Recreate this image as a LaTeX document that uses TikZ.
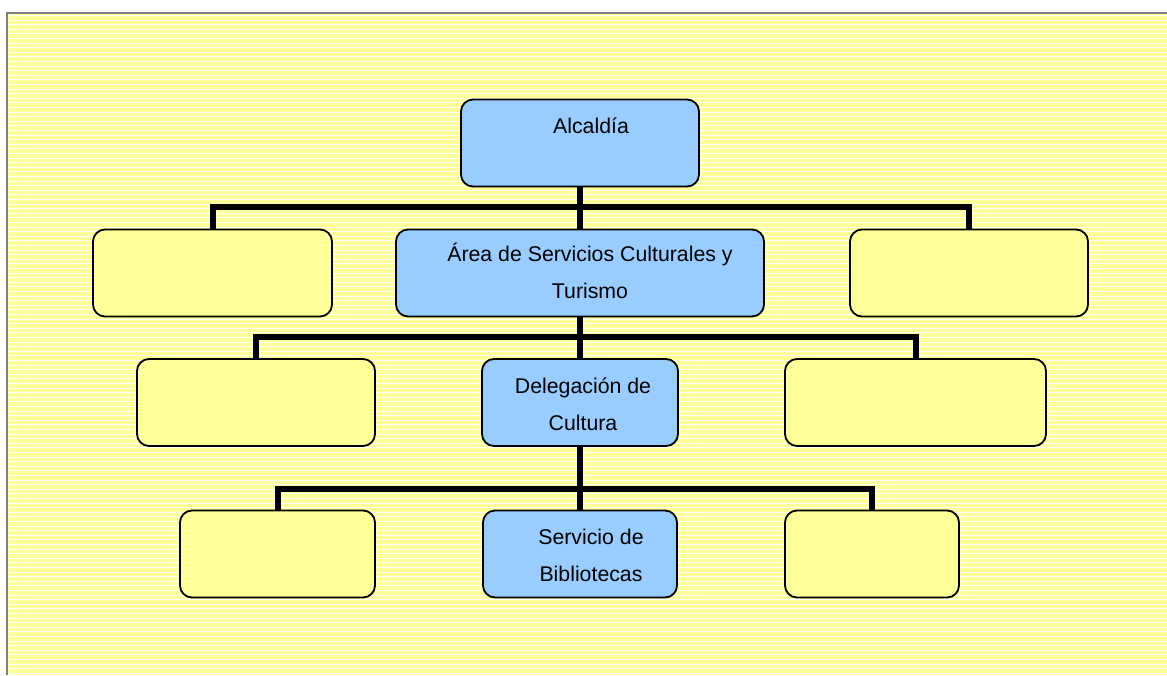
\documentclass[tikz,border=0pt]{standalone}
\usepackage{fontspec}
\setmainfont{Liberation Sans}
\usetikzlibrary{positioning, calc}
\definecolor{Paper}{RGB}{255, 255, 153}
\definecolor{Office}{RGB}{153, 204, 255}
\definecolor{Frame}{RGB}{128, 128, 128}

\begin{document}
\begin{tikzpicture}[x=1pt, y=-1pt,
            unit/.style={rounded corners=12pt, draw=black, line width=1.8pt, fill=Paper, minimum height=87pt, inner sep=0pt},
            office/.style={unit, fill=Office},
            caption/.style={align=center, inner sep=0pt, font=\fontsize{21.3}{37}\selectfont},
            link/.style={line width=6pt, draw=black}
        ]
            % background
            \useasboundingbox (0,0) rectangle (1167,675);
            \fill[Paper] (7,13) rectangle (1167,675);
            \foreach \y in {15.5,20.1,...,675} \draw[white, line width=1pt] (7,\y) -- (1167,\y);
            \draw[Frame, line width=2pt] (7,675) -- (7,13) -- (1167,13);

            \coordinate (bar1) at (580,207);
            \coordinate (bar2) at (580,337);
            \coordinate (bar3) at (580,489);

            \node[office, minimum width=238pt, label={[caption, name=alctext, xshift=11pt, yshift=17pt]center:Alcaldía}] (alc) at (580,143) {};
            \node[unit, minimum width=239pt] (left2) at (212.5,273) {};
            \node[office, minimum width=368pt, label={[caption, name=areatext, xshift=10pt, yshift=2pt]center:Área de Servicios Culturales y\\Turismo}] (area) at (580,273) {};
            \node[unit, minimum width=238pt] (right2) at (969,273) {};
            \node[unit, minimum width=238pt] (left3) at (256,402.5) {};
            \node[office, minimum width=196pt, label={[caption, name=delegtext, xshift=3pt, yshift=-2pt]center:Delegación de\\Cultura}] (deleg) at (580,402.5) {};
            \node[unit, minimum width=261pt] (right3) at (915.5,402.5) {};
            \node[unit, minimum width=195pt] (left4) at (277.5,554) {};
            \node[office, minimum width=194pt, label={[caption, name=servtext, xshift=11pt, yshift=-1pt]center:Servicio de\\Bibliotecas}] (serv) at (580,554) {};
            \node[unit, minimum width=174pt] (right4) at (872,554) {};

            \draw[link] (alc.south) -- (area.north);
            \draw[link] (area.south) -- (deleg.north);
            \draw[link] (deleg.south) -- (serv.north);
            \draw[link] (left2.north) -- (left2.north |- bar1) -- (right2.north |- bar1) -- (right2.north);
            \draw[link] (left3.north) -- (left3.north |- bar2) -- (right3.north |- bar2) -- (right3.north);
            \draw[link] (left4.north) -- (left4.north |- bar3) -- (right4.north |- bar3) -- (right4.north);
        \end{tikzpicture}
\end{document}
